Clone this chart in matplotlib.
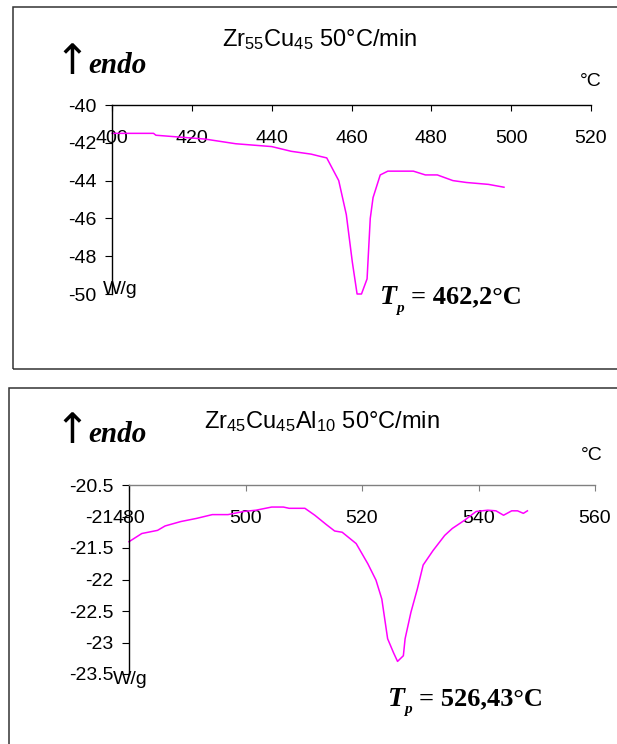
import matplotlib
matplotlib.use('Agg')
import matplotlib.pyplot as plt
from matplotlib.patches import Rectangle

plt.rcParams['font.family'] = ['Liberation Sans', 'DejaVu Sans']
plt.rcParams['mathtext.default'] = 'regular'

# DSC curve, Zr55Cu45 at 50 C/min (T in C, heat flow in W/g)
t1 = [400, 410.4, 411, 423.2, 431, 440, 444.9, 449.9, 451.8, 453.8, 456.8, 458.7,
      460.2, 461.4, 462.5, 463.9, 464.7, 465.4, 467.2, 469.1, 475.5, 478.5, 481.5,
      485.4, 488.8, 494.3, 498.2]
w1 = [-41.5, -41.5, -41.6, -41.8, -42.05, -42.2, -42.45, -42.6, -42.7, -42.8, -44.0,
      -45.8, -48.3, -50.0, -50.0, -49.2, -46.0, -44.9, -43.7, -43.5, -43.5, -43.7,
      -43.7, -44.0, -44.1, -44.2, -44.35]

# DSC curve, Zr45Cu45Al10 at 50 C/min
t2 = [480, 482.2, 484.9, 486.2, 488.9, 491.6, 494.3, 497.0, 499.7, 501.8, 504.5,
      506.5, 507.5, 510.2, 511.9, 513.9, 515.3, 516.6, 519.0, 521.0, 522.4, 523.4,
      524.4, 525.4, 526.1, 527.1, 527.4, 528.4, 529.5, 530.5, 532.2, 534.2, 535.5,
      537.6, 539.6, 541.6, 543.0, 544.3, 545.7, 546.7, 547.7, 548.4]
w2 = [-21.40, -21.27, -21.22, -21.15, -21.08, -21.03, -20.97, -20.97, -20.92, -20.90,
      -20.85, -20.85, -20.87, -20.87, -20.98, -21.13, -21.23, -21.25, -21.43, -21.75,
      -22.01, -22.31, -22.94, -23.16, -23.30, -23.21, -22.94, -22.52, -22.15, -21.77,
      -21.54, -21.30, -21.19, -21.06, -20.92, -20.90, -20.91, -20.98, -20.91, -20.91,
      -20.95, -20.91]

xt1 = [400, 420, 440, 460, 480, 500, 520]
yt1 = [-40, -42, -44, -46, -48, -50]
xt2 = [480, 500, 520, 540, 560]
yt2 = [-20.5, -21, -21.5, -22, -22.5, -23, -23.5]
yl2 = ['-20.5', '-21', '-21.5', '-22', '-22.5', '-23', '-23.5']

W, H = 617, 744
fig = plt.figure(figsize=(W / 100, H / 100), dpi=100)


def px(x0, y0, x1, y1):
    # pixel box (top-left origin) -> figure fraction rect
    return [x0 / W, 1 - y1 / H, (x1 - x0) / W, (y1 - y0) / H]


def panel(rect, t, w, xt, yt, yl, xlim, ylim, xcol):
    ax = fig.add_axes(rect)
    ax.plot(t, w, color='#FF00FF', lw=1.1, clip_on=False)
    ax.set_xlim(*xlim)
    ax.set_ylim(*ylim)
    ax.set_xticks(xt)
    ax.set_yticks(yt)
    ax.set_yticklabels(yl if yl else [str(v) for v in yt])
    ax.spines['right'].set_visible(False)
    ax.spines['bottom'].set_visible(False)
    ax.spines['top'].set_color(xcol)
    ax.spines['top'].set_linewidth(1.0)
    ax.spines['left'].set_linewidth(1.0)
    ax.tick_params(axis='x', top=True, bottom=False, labeltop=True, labelbottom=False,
                   direction='in', length=4, color=xcol, labelsize=14, pad=-30)
    ax.tick_params(axis='y', direction='out', length=5, labelsize=14, pad=6)
    ax.patch.set_alpha(0)
    return ax


ax1 = panel(px(112, 105, 591, 294), t1, w1, xt1, yt1, None, (400, 520), (-50, -40), 'black')
ax2 = panel(px(129, 485, 595, 674), t2, w2, xt2, yt2, yl2, (480, 560), (-23.5, -20.5), '#808080')

# panel frames
fig.add_artist(Rectangle((12.5 / W, 1 - 369 / H), 1, (369 - 7.5) / H, transform=fig.transFigure,
                         fill=False, ec='#333333', lw=1.1, clip_on=False))
fig.add_artist(Rectangle((8.5 / W, -0.1), 1, 0.1 + (H - 388) / H, transform=fig.transFigure,
                         fill=False, ec='#333333', lw=1.1, clip_on=False))


def ftext(x, y, s, **kw):
    fig.text(x / W, 1 - y / H, s, **kw)


serif = 'Liberation Serif'
for tcx, tcy, title, base in [(320, 40, r'Zr$_{55}$Cu$_{45}$ 50°C/min', 73),
                              (322, 422, r'Zr$_{45}$Cu$_{45}$Al$_{10}$ 50°C/min', 442)]:
    ftext(tcx, tcy, title, fontsize=17, ha='center', va='center')
    ftext(72, base + 1, '↑', fontsize=30, family='DejaVu Sans', ha='center', va='baseline')
    ftext(88, base, 'endo', fontsize=21, family=serif, weight='bold', style='italic',
          ha='left', va='baseline')

ftext(591, 82, '°C', fontsize=14, ha='center', va='center')
ftext(592, 455, '°C', fontsize=14, ha='center', va='center')
ftext(103, 290, 'W/g', fontsize=14, ha='left', va='center')
ftext(113, 680, 'W/g', fontsize=14, ha='left', va='center')

# peak temperature labels
for x0, yc, s in [(380, 297, '= 462,2°C'), (388, 699, '= 526,43°C')]:
    ftext(x0, yc, 'T', fontsize=20, family=serif, weight='bold', style='italic',
          ha='left', va='center')
    ftext(x0 + 16, yc + 11, 'p', fontsize=11, family=serif, weight='bold', style='italic',
          ha='left', va='center')
    ftext(x0 + 31, yc, s, fontsize=19, family=serif, weight='bold', ha='left', va='center')

fig.savefig('out.png', dpi=100)
